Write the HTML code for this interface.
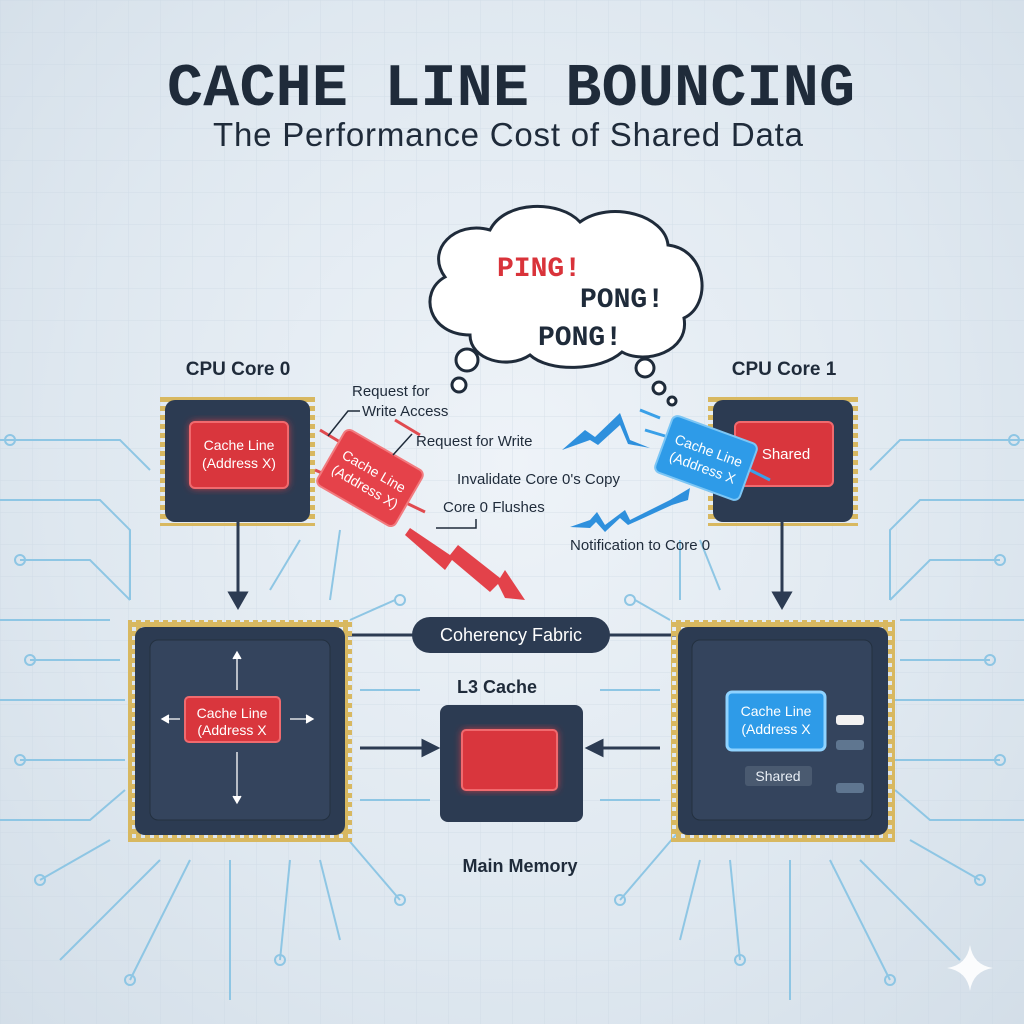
<!DOCTYPE html>
<html><head><meta charset="utf-8"><style>
html,body{margin:0;padding:0;width:1024px;height:1024px;overflow:hidden}
body{background:radial-gradient(ellipse at 50% 45%,#eef3f8 0%,#dfe8f0 60%,#d3dee8 100%);font-family:"Liberation Sans",sans-serif}
svg{position:absolute;left:0;top:0}
</style></head><body>
<svg width="1024" height="1024" viewBox="0 0 1024 1024" xmlns="http://www.w3.org/2000/svg">
<defs>
<pattern id="g" width="32" height="32" patternUnits="userSpaceOnUse"><path d="M32 0H0V32" fill="none" stroke="#c9d6e2" stroke-width="1"/></pattern>
<pattern id="pinsH" width="9" height="8" patternUnits="userSpaceOnUse"><rect x="1" y="0" width="5" height="8" fill="#d8b860"/></pattern>
<pattern id="pinsV" width="8" height="9" patternUnits="userSpaceOnUse"><rect x="0" y="1" width="8" height="5" fill="#d8b860"/></pattern>
<filter id="glowR"><feGaussianBlur stdDeviation="4"/></filter>
</defs>
<rect width="1024" height="1024" fill="url(#g)" opacity="0.6"/>
<g fill="none" stroke="#8ec6e4" stroke-width="2">
<path d="M0 440H120L150 470"/><circle cx="10" cy="440" r="5"/>
<path d="M0 500H100L130 530V600"/><path d="M20 560H90L130 600"/><circle cx="20" cy="560" r="5"/>
<path d="M0 620H110"/><path d="M30 660H120"/><circle cx="30" cy="660" r="5"/>
<path d="M0 700H125"/><path d="M20 760H125"/><circle cx="20" cy="760" r="5"/>
<path d="M0 820H90L125 790"/><path d="M40 880L110 840"/><circle cx="40" cy="880" r="5"/>
<path d="M60 960L160 860"/><path d="M130 980L190 860"/><circle cx="130" cy="980" r="5"/>
<path d="M230 1000V860"/><path d="M280 960L290 860"/><circle cx="280" cy="960" r="5"/>
<path d="M340 940L320 860"/><path d="M400 900L340 830"/><circle cx="400" cy="900" r="5"/>
<path d="M360 690H420"/><path d="M360 800H430"/>
<path d="M270 590L300 540"/><path d="M330 600L340 530"/><circle cx="400" cy="600" r="5"/><path d="M395 600L350 620"/>
<path d="M1024 440H900L870 470"/><circle cx="1014" cy="440" r="5"/>
<path d="M1024 500H920L890 530V600"/><path d="M1000 560H930L890 600"/><circle cx="1000" cy="560" r="5"/>
<path d="M1024 620H900"/><path d="M990 660H900"/><circle cx="990" cy="660" r="5"/>
<path d="M1024 700H895"/><path d="M1000 760H895"/><circle cx="1000" cy="760" r="5"/>
<path d="M1024 820H930L895 790"/><path d="M980 880L910 840"/><circle cx="980" cy="880" r="5"/>
<path d="M960 960L860 860"/><path d="M890 980L830 860"/><circle cx="890" cy="980" r="5"/>
<path d="M790 1000V860"/><path d="M740 960L730 860"/><circle cx="740" cy="960" r="5"/>
<path d="M680 940L700 860"/><path d="M620 900L680 830"/><circle cx="620" cy="900" r="5"/>
<path d="M720 590L700 540"/><path d="M680 600L680 540"/><circle cx="630" cy="600" r="5"/><path d="M635 600L670 620"/>
<path d="M600 690H660"/><path d="M600 800H660"/>
</g>
<text x="512" y="105" text-anchor="middle" font-family="Liberation Mono,monospace" font-weight="bold" font-size="60" fill="#1f2b3a" letter-spacing="2" textLength="690">CACHE LINE BOUNCING</text>
<text x="508" y="146" text-anchor="middle" font-size="33" fill="#1f2b3a" textLength="590">The Performance Cost of Shared Data</text>
<g fill="#fff" stroke="#1f2b3a" stroke-width="3">
<path d="M470 335C428 335 418 292 445 277C425 250 455 220 490 230C505 200 560 200 580 222C610 200 665 215 668 245C708 250 712 305 684 318C690 352 645 365 622 352C600 372 548 372 530 355C508 370 470 360 470 335Z"/>
<circle cx="467" cy="360" r="11"/><circle cx="459" cy="385" r="7"/>
<circle cx="645" cy="368" r="9"/><circle cx="659" cy="388" r="6"/><circle cx="672" cy="401" r="4"/>
</g>
<g font-family="Liberation Mono,monospace" font-weight="bold" font-size="28">
<text x="497" y="276" fill="#d9333a">PING!</text>
<text x="580" y="307" fill="#1f2b3a">PONG!</text>
<text x="538" y="345" fill="#1f2b3a">PONG!</text>
</g>
<text x="238" y="375" text-anchor="middle" font-weight="bold" font-size="19" fill="#1f2b3a">CPU Core 0</text>
<text x="784" y="375" text-anchor="middle" font-weight="bold" font-size="19" fill="#1f2b3a">CPU Core 1</text>
<g>
<rect x="160" y="396" width="155" height="130" fill="url(#pinsV)"/>
<rect x="165" y="400" width="145" height="122" rx="10" fill="#2c3b52"/>
<rect x="708" y="396" width="150" height="130" fill="url(#pinsV)"/>
<rect x="713" y="400" width="140" height="122" rx="10" fill="#2c3b52"/>
</g>
<rect x="190" y="422" width="98" height="66" rx="5" fill="#e03a40" filter="url(#glowR)"/>
<rect x="190" y="422" width="98" height="66" rx="5" fill="#d9363d" stroke="#f06a6e" stroke-width="2"/>
<text x="239" y="450" text-anchor="middle" font-size="14" fill="#fff">Cache Line</text>
<text x="239" y="468" text-anchor="middle" font-size="14" fill="#fff">(Address X)</text>
<rect x="735" y="422" width="98" height="64" rx="5" fill="#d9363d" stroke="#f06a6e" stroke-width="2"/>
<text x="786" y="459" text-anchor="middle" font-size="15" fill="#fff">Shared</text>
<g stroke="#e04a4f" stroke-width="3"><path d="M320 430L345 445M315 470L338 480M395 420L420 435M400 500L425 512"/></g>
<g transform="translate(370 478) rotate(30)">
<rect x="-45" y="-32" width="90" height="64" rx="6" fill="#e5424a" stroke="#f27a7e" stroke-width="2"/>
<text x="0" y="-3" text-anchor="middle" font-size="14" fill="#fff">Cache Line</text>
<text x="0" y="15" text-anchor="middle" font-size="14" fill="#fff">(Address X)</text>
</g>
<path d="M410 528L450 555L458 545L500 578L505 570L525 600L505 598L498 584L490 592L452 560L445 570L405 535Z" fill="#e3424a"/>
<g stroke="#3aa0e8" stroke-width="3"><path d="M640 410L660 418M645 430L665 436M660 458L680 465M750 470L770 480"/></g>
<g transform="translate(706 458) rotate(20)">
<rect x="-45" y="-30" width="90" height="60" rx="6" fill="#2e9be8" stroke="#7cc6f5" stroke-width="2"/>
<text x="0" y="-3" text-anchor="middle" font-size="14" fill="#fff">Cache Line</text>
<text x="0" y="15" text-anchor="middle" font-size="14" fill="#fff">(Address X</text>
</g>
<path d="M562 450L585 430L595 437L620 413L630 440L650 448L628 444L620 425L598 445L590 440Z" fill="#2e90dd"/>
<path d="M570 527L590 520L597 512L605 525L625 510L630 520L670 500L690 488L688 500L672 505L628 525L620 518L605 532L596 522L590 528Z" fill="#2e90dd"/>
<g font-size="15" fill="#1f2b3a">
<text x="352" y="396">Request for</text>
<text x="362" y="416">Write Access</text>
<text x="416" y="446">Request for Write</text>
<text x="457" y="484">Invalidate Core 0's Copy</text>
<text x="443" y="512">Core 0 Flushes</text>
<text x="570" y="550">Notification to Core 0</text>
</g>
<g stroke="#1f2b3a" stroke-width="1.5" fill="none"><path d="M360 411H348L328 436M412 434L393 455M436 528H476V519"/></g>
<g stroke="#2c3b52" stroke-width="3" fill="#2c3b52">
<path d="M238 522V595"/><path d="M230 593L238 607L246 593Z"/>
<path d="M782 522V595"/><path d="M774 593L782 607L790 593Z"/>
<path d="M360 748H425"/><path d="M423 741L437 748L423 755Z"/>
<path d="M660 748H600"/><path d="M602 741L588 748L602 755Z"/>
<path d="M345 635H678"/>
</g>
<rect x="128" y="620" width="224" height="222" fill="url(#pinsH)"/>
<rect x="128" y="620" width="224" height="222" fill="url(#pinsV)"/>
<rect x="135" y="627" width="210" height="208" rx="10" fill="#2c3b52"/>
<rect x="150" y="640" width="180" height="180" rx="8" fill="#34445d" stroke="#23303f"/>
<rect x="671" y="620" width="224" height="222" fill="url(#pinsH)"/>
<rect x="671" y="620" width="224" height="222" fill="url(#pinsV)"/>
<rect x="678" y="627" width="210" height="208" rx="10" fill="#2c3b52"/>
<rect x="692" y="640" width="180" height="180" rx="8" fill="#34445d" stroke="#23303f"/>
<g stroke="#fff" stroke-width="1.3" fill="#fff"><path d="M237 655V690M237 752V800M165 719H180M290 719H310"/>
<path d="M233 659L237 652L241 659M233 796L237 803L241 796M306 715L313 719L306 723M169 715L162 719L169 723"/></g>
<rect x="185" y="697" width="95" height="45" rx="4" fill="#d9363d" stroke="#f06a6e" stroke-width="2"/>
<text x="232" y="718" text-anchor="middle" font-size="14" fill="#fff">Cache Line</text>
<text x="232" y="735" text-anchor="middle" font-size="14" fill="#fff">(Address X</text>
<rect x="727" y="692" width="98" height="58" rx="5" fill="#2e9be8" stroke="#8fd3ff" stroke-width="3"/>
<text x="776" y="716" text-anchor="middle" font-size="14" fill="#fff">Cache Line</text>
<text x="776" y="734" text-anchor="middle" font-size="14" fill="#fff">(Address X</text>
<rect x="745" y="766" width="67" height="20" rx="3" fill="#4a5a70"/>
<text x="778" y="781" text-anchor="middle" font-size="14" fill="#e8eef5">Shared</text>
<rect x="836" y="715" width="28" height="10" rx="3" fill="#f2f2f2"/>
<rect x="836" y="740" width="28" height="10" rx="3" fill="#5f7690"/>
<rect x="836" y="783" width="28" height="10" rx="3" fill="#5f7690"/>
<text x="497" y="693" text-anchor="middle" font-weight="bold" font-size="18" fill="#1f2b3a">L3 Cache</text>
<rect x="440" y="705" width="143" height="117" rx="8" fill="#2c3b52"/>
<rect x="462" y="730" width="95" height="60" rx="4" fill="#e03a40" filter="url(#glowR)"/>
<rect x="462" y="730" width="95" height="60" rx="4" fill="#d9363d" stroke="#f06a6e" stroke-width="2"/>
<text x="520" y="872" text-anchor="middle" font-weight="bold" font-size="18" fill="#1f2b3a">Main Memory</text>
<rect x="412" y="617" width="198" height="36" rx="18" fill="#2c3b52"/>
<text x="511" y="641" text-anchor="middle" font-size="18" fill="#fff">Coherency Fabric</text>
<path d="M970 945Q973 965 993 968Q973 971 970 991Q967 971 947 968Q967 965 970 945Z" fill="#fff" opacity="0.9"/>
</svg>
</body></html>
